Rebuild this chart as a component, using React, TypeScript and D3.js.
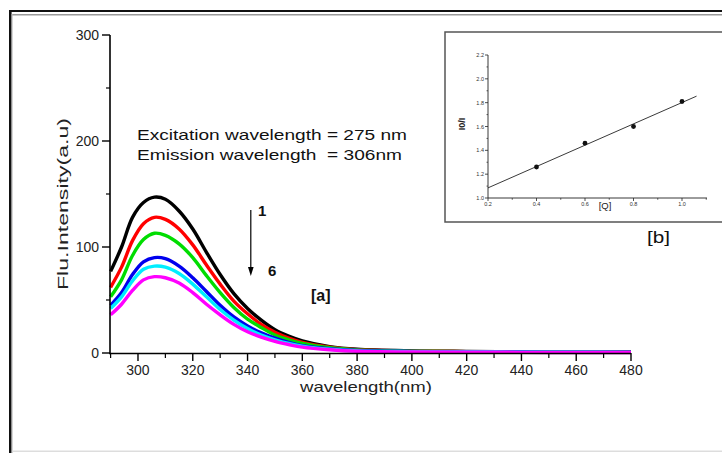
import React from 'react';
import * as d3 from 'd3';

// Emission spectra (excitation 275 nm), curves 1..6 with increasing quencher
const wavelengths = [290, 294, 298, 302, 306, 310, 315, 320, 325, 330, 335, 340, 345, 350, 355, 360, 370, 380, 400, 420, 440, 460, 480];
const spectrum1 = [77, 100, 128, 142, 147, 145, 134, 117, 95, 74, 56, 42, 31, 22, 16, 11.5, 6, 3.5, 2, 1.5, 1.2, 1, 1];
const spectrum2 = [62, 81, 106, 122, 128, 126, 117, 102, 83, 65, 49, 37, 27, 19.5, 14, 10, 5.5, 3, 1.8, 1.3, 1.1, 0.9, 0.9];
const spectrum3 = [53, 69, 92, 107, 113, 111, 103, 90, 73, 57, 43, 32, 24, 17, 12.5, 9, 5, 2.8, 1.7, 1.2, 1, 0.9, 0.8];
const spectrum4 = [45, 57, 74, 86, 90, 89, 82, 71, 58, 45, 34, 25.5, 19, 14, 10, 7, 4, 2.4, 1.5, 1.1, 0.9, 0.8, 0.7];
const spectrum5 = [42, 53, 68, 79, 82, 81, 75, 65, 53, 41, 31, 23, 17, 12.5, 9, 6.5, 3.5, 2, 1.3, 1, 0.8, 0.7, 0.6];
const spectrum6 = [36, 46, 59, 69, 72, 71, 66, 57, 46, 36, 27, 20, 15, 11, 8, 5.5, 3, 1.6, 1, 0.8, 0.6, 0.5, 0.5];
const spectra = [spectrum1, spectrum2, spectrum3, spectrum4, spectrum5, spectrum6];
const spectrumColors = ['#000000', '#ff0000', '#00dd00', '#0000ee', '#00eeff', '#ff00ff'];

const xMajorTicks = [300, 320, 340, 360, 380, 400, 420, 440, 460, 480];
const xMinorTicks = [290, 310, 330, 350, 370, 390, 410, 430, 450, 470];
const yMajorTicks = [0, 100, 200, 300];
const yMinorTicks = [50, 150, 250];

// Stern-Volmer inset
const quencherConc = [0.4, 0.6, 0.8, 1.0];
const intensityRatio = [1.26, 1.46, 1.6, 1.81];
const insetXTicks = [0.2, 0.4, 0.6, 0.8, 1.0];
const insetXMinor = [0.3, 0.5, 0.7, 0.9, 1.1];
const insetYTicks = [1.0, 1.2, 1.4, 1.6, 1.8, 2.0, 2.2];
const insetYMinor = [1.1, 1.3, 1.5, 1.7, 1.9, 2.1];

const FONT = '"Liberation Sans", Arial, sans-serif';

export default function App() {
  const x = d3.scaleLinear().domain([290, 480]).range([110.6, 631]);
  const y = d3.scaleLinear().domain([0, 300]).range([353, 35]);

  const line = d3
    .line<number>()
    .x((_, i) => x(wavelengths[i]))
    .y((d) => y(d))
    .curve(d3.curveCatmullRom.alpha(0.5));

  const ix = d3.scaleLinear().domain([0.2, 1.0]).range([488, 682]);
  const iy = d3.scaleLinear().domain([1.0, 2.2]).range([198, 55]);

  // least-squares fit through the inset points
  const mx = d3.mean(quencherConc) as number;
  const my = d3.mean(intensityRatio) as number;
  const sxy = d3.sum(quencherConc, (q, i) => (q - mx) * (intensityRatio[i] - my));
  const sxx = d3.sum(quencherConc, (q) => (q - mx) * (q - mx));
  const slope = sxy / sxx;
  const intercept = my - slope * mx;
  const fitX = [0.2, 1.06];

  return (
    <svg
      width={722}
      height={453}
      style={{ position: 'absolute', left: 0, top: 0, background: '#fff' }}
      fontFamily={FONT}
    >
      {/* page frame */}
      <rect x={0} y={0} width={722} height={453} fill="#fff" />
      <rect x={9} y={10} width={713} height={2} fill="#111" />
      <rect x={12} y={14} width={710} height={1.5} fill="#999" />
      <rect x={9} y={10} width={2.6} height={443} fill="#111" />
      <rect x={11.6} y={14} width={1} height={439} fill="#bbb" />
      <rect x={12} y={450.5} width={710} height={1.5} fill="#ddd" />

      {/* spectra */}
      {spectra.map((s, k) => (
        <path key={k} d={line(s) || ''} fill="none" stroke={spectrumColors[k]} strokeWidth={3.4} strokeLinejoin="round" />
      ))}

      {/* main axes */}
      <line x1={110} y1={y(300)} x2={110} y2={354} stroke="#000" strokeWidth={1.6} />
      <line x1={109} y1={353.5} x2={x(480)} y2={353.5} stroke="#000" strokeWidth={1.6} />
      {yMajorTicks.map((t) => (
        <g key={t}>
          <line x1={102} x2={110} y1={y(t)} y2={y(t)} stroke="#000" strokeWidth={1.4} />
          <text x={99} y={y(t) + 5} textAnchor="end" fontSize={14} fill="#222">{t}</text>
        </g>
      ))}
      {yMinorTicks.map((t) => (
        <line key={t} x1={106} x2={110} y1={y(t)} y2={y(t)} stroke="#000" strokeWidth={1.2} />
      ))}
      {xMajorTicks.map((t) => (
        <g key={t}>
          <line x1={x(t)} x2={x(t)} y1={353} y2={361} stroke="#000" strokeWidth={1.4} />
          <text x={x(t)} y={375} textAnchor="middle" fontSize={14} fill="#222">{t}</text>
        </g>
      ))}
      {xMinorTicks.map((t) => (
        <line key={t} x1={x(t)} x2={x(t)} y1={353} y2={358} stroke="#000" strokeWidth={1.2} />
      ))}
      <text x={366} y={391.5} textAnchor="middle" fontSize={15} textLength={132} lengthAdjust="spacingAndGlyphs" fill="#222">
        wavelength(nm)
      </text>
      <text
        transform="translate(68,204) rotate(-90)"
        textAnchor="middle"
        fontSize={15}
        textLength={172}
        lengthAdjust="spacingAndGlyphs"
        fill="#222"
      >
        Flu.Intensity(a.u)
      </text>

      {/* annotations */}
      <text x={137} y={140} fontSize={15} textLength={270} lengthAdjust="spacingAndGlyphs" fill="#111">
        Excitation wavelength = 275 nm
      </text>
      <text x={137} y={160} fontSize={15} textLength={265} lengthAdjust="spacingAndGlyphs" fill="#111" style={{ whiteSpace: 'pre' }}>
        {'Emission wavelength  = 306nm'}
      </text>
      <line x1={250.8} x2={250.8} y1={210} y2={269} stroke="#000" strokeWidth={1.2} />
      <path d="M248,267 L253.6,267 L250.8,276 Z" fill="#000" />
      <text x={258} y={216} fontSize={15} fontWeight="bold" fill="#111">1</text>
      <text x={268} y={276} fontSize={15} fontWeight="bold" fill="#111">6</text>
      <text x={311} y={301} fontSize={16} fontWeight="bold" fill="#111">[a]</text>

      {/* inset frame */}
      <path d="M722,32 L445,32 L445,222 L722,222" fill="none" stroke="#555" strokeWidth={1.5} />

      {/* inset axes */}
      <line x1={488} x2={488} y1={iy(2.2)} y2={iy(1.0)} stroke="#222" strokeWidth={0.9} />
      <line x1={488} x2={707} y1={iy(1.0)} y2={iy(1.0)} stroke="#222" strokeWidth={0.9} />
      {insetYTicks.map((t) => (
        <g key={t}>
          <line x1={485} x2={488} y1={iy(t)} y2={iy(t)} stroke="#222" strokeWidth={0.8} />
          <text x={484} y={iy(t) + 2} textAnchor="end" fontSize={5.5} fill="#333">{t.toFixed(1)}</text>
        </g>
      ))}
      {insetYMinor.map((t) => (
        <line key={t} x1={486.5} x2={488} y1={iy(t)} y2={iy(t)} stroke="#222" strokeWidth={0.7} />
      ))}
      {insetXTicks.map((t) => (
        <g key={t}>
          <line x1={ix(t)} x2={ix(t)} y1={198} y2={201} stroke="#222" strokeWidth={0.8} />
          <text x={ix(t)} y={206} textAnchor="middle" fontSize={5.5} fill="#333">{t.toFixed(1)}</text>
        </g>
      ))}
      {insetXMinor.map((t) => (
        <line key={t} x1={ix(t)} x2={ix(t)} y1={198} y2={199.8} stroke="#222" strokeWidth={0.7} />
      ))}
      <line
        x1={ix(fitX[0])}
        y1={iy(intercept + slope * fitX[0])}
        x2={ix(fitX[1])}
        y2={iy(intercept + slope * fitX[1])}
        stroke="#222"
        strokeWidth={0.9}
      />
      {quencherConc.map((q, i) => (
        <circle key={q} cx={ix(q)} cy={iy(intensityRatio[i])} r={2.4} fill="#111" />
      ))}
      <text x={605} y={209} textAnchor="middle" fontSize={9.5} fill="#222">[Q]</text>
      <text transform="translate(465,124) rotate(-90)" textAnchor="middle" fontSize={9} fontWeight="bold" fill="#222">
        I0/I
      </text>
      <text x={647} y={243} fontSize={16} textLength={23} lengthAdjust="spacingAndGlyphs" fill="#111">[b]</text>
    </svg>
  );
}
